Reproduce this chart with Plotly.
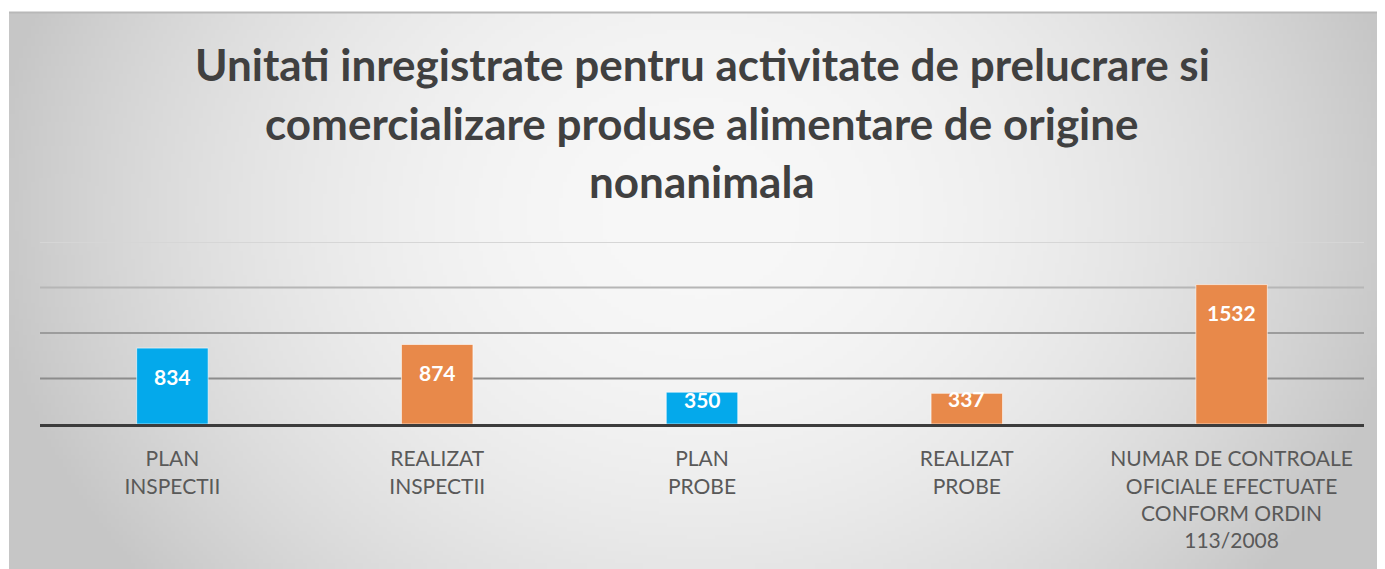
import base64, struct, zlib
import numpy as np
import plotly.graph_objects as go

# ---- data ----
CATEGORIES = ["PLAN<br>INSPECTII", "REALIZAT<br>INSPECTII", "PLAN<br>PROBE", "REALIZAT<br>PROBE",
              "NUMAR DE CONTROALE<br>OFICIALE EFECTUATE<br>CONFORM ORDIN<br>113/2008"]
VALUES = [834, 874, 350, 337, 1532]
SERIES_KIND = ["plan", "realizat", "plan", "realizat", "realizat"]
GRID_VALUES = [500, 1000, 1500, 2000]
TITLE_LINES = ["Unitati inregistrate pentru activitate de prelucrare si",
               "comercializare produse alimentare de origine",
               "nonanimala"]

# ---- styles / layout (page pixels; page has an 8px body margin) ----
OFF = 8
PAGE_W, PAGE_H = 1385, 569
W, H = PAGE_W - OFF, PAGE_H - OFF
PLOT_L, PLOT_R, PLOT_T, PLOT_B = 40, 1364, 242, 424   # page coords
ML, MR, MT, MB = PLOT_L - OFF, PAGE_W - PLOT_R, PLOT_T - OFF, PAGE_H - PLOT_B
PLOT_H = PLOT_B - PLOT_T
PLOT_W = PLOT_R - PLOT_L
Y_MAX = 2000
KIND_COLOR = {"plan": "#04A9EB", "realizat": "#E8894A"}
GRID_COLORS = ["#8c8c8c", "#9c9c9c", "#b6b6b6", "#d6d6d6"]
BG_X0, BG_Y0 = 9, 12  # page coords of chart area


def px_to_paper_x(px):
    return (px - PLOT_L) / PLOT_W


def px_to_paper_y(py):
    return (PLOT_B - py) / PLOT_H


def gradient_png():
    w, h = 344, 139
    xs = (np.arange(w) + 0.5) / w * (PAGE_W - BG_X0) + BG_X0
    ys = (np.arange(h) + 0.5) / h * (PAGE_H - BG_Y0) + BG_Y0
    X, Y = np.meshgrid(xs, ys)
    dx = (X - 700) / 700
    dy = (Y - 215) / 580
    v = 248 - 48 * dx ** 2 - 48 * dy ** 2
    v = np.clip(v, 198, 250).astype(np.uint8)
    raw = b"".join(b"\x00" + row.tobytes() for row in v)

    def chunk(t, d):
        c = struct.pack(">I", len(d)) + t + d
        return c + struct.pack(">I", zlib.crc32(t + d) & 0xffffffff)

    png = b"\x89PNG\r\n\x1a\n" + chunk(b"IHDR", struct.pack(">IIBBBBB", w, h, 8, 0, 0, 0, 0)) \
        + chunk(b"IDAT", zlib.compress(raw, 9)) + chunk(b"IEND", b"")
    return "data:image/png;base64," + base64.b64encode(png).decode()


colors = [KIND_COLOR[k] for k in SERIES_KIND]
fig = go.Figure(go.Bar(
    x=CATEGORIES, y=VALUES, width=0.27,
    marker=dict(color=colors, line=dict(color="rgba(255,255,255,0.6)", width=1)),
    hoverinfo="skip",
))

px_per_unit = PLOT_H / Y_MAX
annotations = []
for c, v in zip(CATEGORIES, VALUES):
    shift = -min(28, v * px_per_unit - 25)
    annotations.append(dict(x=c, y=v, xref="x", yref="y", yshift=shift, text=str(v),
                            showarrow=False, yanchor="middle",
                            font=dict(family="Lato", size=21, color="white", weight="bold")))

for line, ypx in zip(TITLE_LINES, [64, 123, 181]):
    annotations.append(dict(x=0.5, xref="paper", y=px_to_paper_y(ypx), yref="paper",
                            text=line, showarrow=False, yanchor="middle", xanchor="center",
                            font=dict(family="Lato", size=44, color="#404040", weight="bold")))

shapes = []
for gv, gc in zip(GRID_VALUES, GRID_COLORS):
    shapes.append(dict(type="line", xref="paper", yref="y", x0=0, x1=1, y0=gv, y1=gv,
                       line=dict(color=gc, width=2), layer="below"))
top_y = px_to_paper_y(BG_Y0 + 0.5)
shapes.append(dict(type="line", xref="paper", yref="paper", x0=px_to_paper_x(BG_X0), x1=px_to_paper_x(PAGE_W),
                   y0=top_y, y1=top_y, line=dict(color="#b8b8b8", width=2)))

fig.update_layout(
    width=W, height=H,
    margin=dict(l=ML, r=MR, t=MT, b=MB, pad=0),
    paper_bgcolor="white", plot_bgcolor="rgba(0,0,0,0)",
    showlegend=False,
    annotations=annotations,
    shapes=shapes,
    images=[dict(source=gradient_png(), xref="paper", yref="paper",
                 x=px_to_paper_x(BG_X0), y=px_to_paper_y(BG_Y0),
                 sizex=(PAGE_W - BG_X0) / PLOT_W, sizey=(PAGE_H - BG_Y0) / PLOT_H,
                 xanchor="left", yanchor="top", sizing="stretch", layer="below")],
    xaxis=dict(showline=True, linecolor="#3c3c3c", linewidth=3, ticks="outside", ticklen=14,
               tickcolor="rgba(0,0,0,0)", showgrid=False,
               tickfont=dict(family="Lato", size=21, color="#595959")),
    yaxis=dict(range=[0, Y_MAX], showgrid=False, zeroline=False, showticklabels=False,
               fixedrange=True),
)

fig.write_html("out.html")
